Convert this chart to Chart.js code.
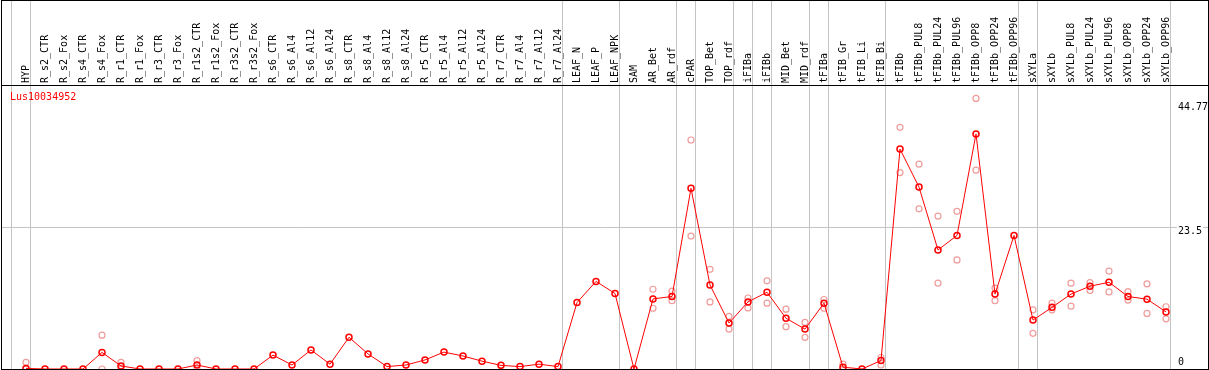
<!DOCTYPE html>
<html>
<head>
<meta charset="utf-8">
<script src="https://cdn.jsdelivr.net/npm/chart.js@4.4.1/dist/chart.umd.min.js"></script>
<style>
  html, body { margin: 0; padding: 0; background: #fff; }
  #envoltura { width: 1209px; height: 370px; position: relative; }
</style>
</head>
<body>
<div id="envoltura"><canvas id="grafico"></canvas></div>
<script>
const nombreGen = 'Lus10034952'

const categorias = ['HYP',
  'R_s2_CTR', 'R_s2_Fox', 'R_s4_CTR', 'R_s4_Fox', 'R_r1_CTR', 'R_r1_Fox', 'R_r3_CTR', 'R_r3_Fox',
  'R_r1s2_CTR', 'R_r1s2_Fox', 'R_r3s2_CTR', 'R_r3s2_Fox',
  'R_s6_CTR', 'R_s6_Al4', 'R_s6_Al12', 'R_s6_Al24', 'R_s8_CTR', 'R_s8_Al4', 'R_s8_Al12', 'R_s8_Al24',
  'R_r5_CTR', 'R_r5_Al4', 'R_r5_Al12', 'R_r5_Al24', 'R_r7_CTR', 'R_r7_Al4', 'R_r7_Al12', 'R_r7_Al24',
  'LEAF_N', 'LEAF_P', 'LEAF_NPK', 'SAM', 'AR_Bet', 'AR_rdf', 'cPAR', 'TOP_Bet', 'TOP_rdf',
  'iFIBa', 'iFIBb', 'MID_Bet', 'MID_rdf', 'tFIBa', 'tFIB_Gr', 'tFIB_Li', 'tFIB_Bi',
  'tFIBb', 'tFIBb_PUL8', 'tFIBb_PUL24', 'tFIBb_PUL96', 'tFIBb_OPP8', 'tFIBb_OPP24', 'tFIBb_OPP96',
  'sXYLa', 'sXYLb', 'sXYLb_PUL8', 'sXYLb_PUL24', 'sXYLb_PUL96', 'sXYLb_OPP8', 'sXYLb_OPP24', 'sXYLb_OPP96']

const medias = [0.1,
  0, 0, 0, 2.75, 0.5, 0, 0, 0,
  0.66, 0, 0, 0,
  2.3, 0.66, 3.15, 0.8, 5.25, 2.5, 0.4, 0.66,
  1.5, 2.8, 2.15, 1.3, 0.6, 0.4, 0.8, 0.4,
  11.0, 14.5, 12.5, 0, 11.6, 12.0, 29.9, 13.9, 7.6,
  11.1, 12.7, 8.4, 6.6, 10.9, 0.3, 0, 1.4,
  36.4, 30.1, 19.7, 22.1, 38.9, 12.4, 22.1,
  8.1, 10.2, 12.4, 13.7, 14.35, 12.0, 11.55, 9.45]

// replicas de cada muestra (vacio = una sola medida)
const replicas = [[1.1, 0],
  [], [], [], [5.6, 0], [1.1, 0], [], [], [],
  [1.4, 0], [], [], [],
  [], [], [], [], [], [], [], [],
  [], [], [], [], [], [], [], [],
  [], [], [], [], [13.2, 10.05], [12.9, 11.3], [37.9, 22.0], [16.5, 11.1], [8.7, 6.6],
  [11.75, 10.1], [14.6, 10.9], [9.9, 7.0], [7.7, 5.25], [11.5, 10.05], [0.8, 0], [], [1.9, 0.66],
  [40.0, 32.5], [33.9, 26.5], [25.3, 14.2], [26.1, 18.05], [44.77, 32.9], [13.4, 11.3], [],
  [9.8, 5.9], [10.9, 9.8], [14.2, 10.4], [14.3, 13.0], [16.2, 12.75], [12.8, 11.4], [14.1, 9.2], [10.3, 8.3]]

// separadores de grupo: despues de estos indices
const cortes = [-1, 0, 28, 31, 34, 35, 37, 38, 39, 41, 42, 45, 52, 53, 60]
const marcasY = [0, 23.5, 44.77]

//
let puntosMedia = medias.map((v, i) => ({ x: i, y: v }))
let puntosReplica = []
replicas.forEach((lista, i) => {
  lista.forEach(v => puntosReplica.push({ x: i, y: v }))
})

const interlineado = { '0': '14px', '23.5': '8px', '44.77': '17px' }
const conFondo = c => !!(c.tick && c.tick.value === 23.5)

const marco = {
  id: 'marco',
  afterDraw (chart) {
    let ctx = chart.ctx
    let area = chart.chartArea
    ctx.save()
    ctx.strokeStyle = '#000'
    ctx.lineWidth = 1
    ctx.strokeRect(1.5, 0.5, chart.width - 2, chart.height - 1)
    ctx.fillStyle = '#ff0000'
    ctx.font = '10px "DejaVu Sans Mono"'
    ctx.textBaseline = 'middle'
    ctx.textAlign = 'left'
    ctx.fillText(nombreGen, area.left + 9, area.top + 12)
    ctx.restore()
  }
}

let ctx = document.getElementById('grafico').getContext('2d')
let grafico = new Chart(ctx, {
  type: 'line',
  data: {
    datasets: [{
      label: nombreGen,
      data: puntosMedia,
      borderColor: '#ff0000',
      borderWidth: 1,
      pointRadius: 3,
      pointBorderWidth: 1.5,
      pointBorderColor: '#ff0000',
      pointBackgroundColor: 'rgba(0,0,0,0)',
      fill: false,
      tension: 0,
      order: 0
    }, {
      label: 'replicas',
      data: puntosReplica,
      showLine: false,
      pointRadius: 3,
      pointBorderWidth: 1.2,
      pointBorderColor: '#ee9c9c',
      pointBackgroundColor: 'rgba(0,0,0,0)',
      order: 1
    }]
  },
  options: {
    responsive: true,
    maintainAspectRatio: false,
    animation: false,
    layout: { autoPadding: false, padding: { top: 0, left: 1, right: 1, bottom: 1 } },
    plugins: {
      legend: { display: false },
      tooltip: { enabled: false }
    },
    scales: {
      x: {
        type: 'linear',
        position: 'top',
        bounds: 'data',
        min: -25 / 19,
        max: -25 / 19 + 1207 / 19,
        afterBuildTicks (escala) {
          let marcas = categorias.map((c, i) => ({ value: i, nombre: c }))
          cortes.forEach(i => marcas.push({ value: i + 0.23, corte: true }))
          marcas.sort((a, b) => a.value - b.value)
          escala.ticks = marcas
        },
        afterFit (escala) {
          escala.height = 85
          escala.paddingLeft = 0
          escala.paddingRight = 0
        },
        grid: {
          drawTicks: true,
          tickLength: 85,
          lineWidth: 1,
          color: c => (c.tick && c.tick.corte) ? '#c4c4c4' : 'rgba(0,0,0,0)',
          tickColor: c => (c.tick && c.tick.corte) ? '#c4c4c4' : 'rgba(0,0,0,0)'
        },
        border: { display: true, color: '#000', width: 1 },
        ticks: {
          autoSkip: false,
          minRotation: 90,
          maxRotation: 90,
          padding: -83,
          labelOffset: 12,
          color: '#000',
          font: { family: 'DejaVu Sans Mono', size: 10 },
          callback: (valor, i, marcas) => marcas[i].nombre || ''
        }
      },
      y: {
        type: 'linear',
        position: 'right',
        bounds: 'data',
        min: 0,
        max: 47,
        afterBuildTicks (escala) {
          escala.ticks = marcasY.map(v => ({ value: v }))
        },
        afterFit (escala) {
          escala.width = 0
          escala.paddingTop = 0
          escala.paddingBottom = 0
        },
        grid: {
          drawTicks: false,
          lineWidth: 1,
          color: c => (c.tick && c.tick.value === 23.5) ? '#c4c4c4' : 'rgba(0,0,0,0)'
        },
        border: { display: true, color: '#000', width: 1 },
        ticks: {
          mirror: true,
          crossAlign: 'far',
          padding: 0,
          autoSkip: false,
          color: '#000',
          showLabelBackdrop: conFondo,
          backdropColor: '#fff',
          backdropPadding: 1,
          font: c => ({
            family: 'DejaVu Sans Mono',
            size: 10,
            lineHeight: (c.tick && interlineado[String(c.tick.value)]) || '12px'
          }),
          callback: valor => valor === 0 ? ['0', ''] : ['', String(valor)]
        }
      }
    }
  },
  plugins: [marco]
})
</script>
</body>
</html>
